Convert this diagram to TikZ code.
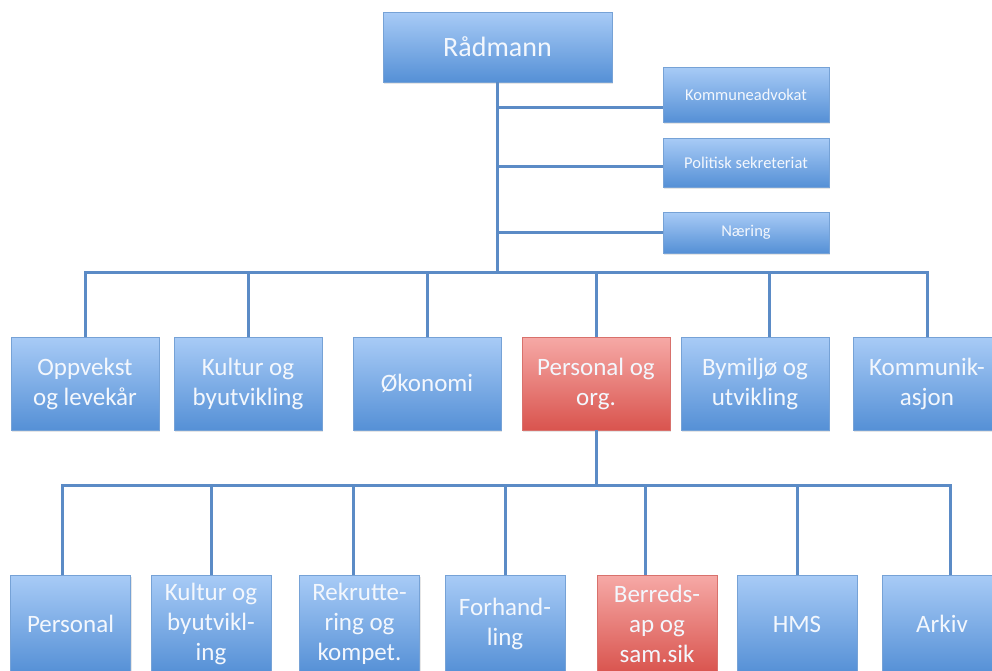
\documentclass[tikz,border=0pt]{standalone}
\usepackage{fontspec}
\setmainfont{Carlito}
\usetikzlibrary{shadows}
\definecolor{boxtop}{HTML}{A8CBF6}
\definecolor{boxbot}{HTML}{5590D6}
\definecolor{boxline}{HTML}{76A2D6}
\definecolor{redtop}{HTML}{F6A9A6}
\definecolor{redbot}{HTML}{D9544E}
\definecolor{redline}{HTML}{D8716C}
\definecolor{wire}{HTML}{5B8BC6}
\definecolor{boxtext}{HTML}{F3F7FD}

\begin{document}
\begin{tikzpicture}[x=1pt,y=-1pt,
     unit/.style={draw=boxline,line width=0.8pt,top color=boxtop,
       bottom color=boxbot,text=boxtext,align=center,inner sep=0pt,
       drop shadow={shadow xshift=1pt,shadow yshift=-2pt,opacity=0.2}},
     focus/.style={unit,draw=redline,top color=redtop,bottom color=redbot},
     staff/.style={unit,minimum width=166pt,font=\fontsize{16.5}{20}\selectfont},
     dept/.style={minimum width=148pt,minimum height=93pt,
       font=\fontsize{25}{30}\selectfont},
     sect/.style={minimum width=120pt,minimum height=98pt,
       font=\fontsize{25}{30}\selectfont},
     link/.style={draw=wire,line width=3pt}]
    \useasboundingbox (0,0) rectangle (992,670);
    \node[unit,minimum width=229pt,minimum height=70pt,
      font=\fontsize{28}{34}\selectfont] (rad) at (497.5,47) {Rådmann};
    \node[staff,minimum height=55pt] (kadv) at (746,94.5) {Kommuneadvokat};
    \node[staff,minimum height=49pt] (pol) at (746,162.5) {Politisk sekreteriat};
    \node[staff,minimum height=41pt] (nae) at (746,232.5) {Næring};
    \node[unit,dept] (opp) at (85,383.5) {Oppvekst\\og levekår};
    \node[unit,dept] (kul) at (248,383.5) {Kultur og\\byutvikling};
    \node[unit,dept] (oko) at (427,383.5) {Økonomi};
    \node[focus,dept] (pers) at (596,383.5) {Personal og\\org.};
    \node[unit,dept] (bym) at (755,383.5) {Bymiljø og\\utvikling};
    \node[unit,dept] (kom) at (927,383.5) {Kommunik-\\asjon};
    \node[unit,sect] (per) at (70.5,624) {Personal};
    \node[unit,sect] (kub) at (211,624) {Kultur og\\byutvikl-\\ing};
    \node[unit,sect] (rek) at (359.5,624) {Rekrutte-\\ring og\\kompet.};
    \node[unit,sect] (for) at (505,624) {Forhand-\\ling};
    \node[focus,sect] (ber) at (657,624) {Berreds-\\ap og\\sam.sik};
    \node[unit,sect] (hms) at (797,624) {HMS};
    \node[unit,sect] (ark) at (942,624) {Arkiv};
    % top level
    \coordinate (bus) at (497,272);
    \draw[link] (rad.south) -- (rad.south |- bus);
    \draw[link] ([yshift=-12.5pt]kadv.west) -- ([yshift=-12.5pt]kadv.west -| rad.south);
    \draw[link] ([yshift=-3.5pt]pol.west) -- ([yshift=-3.5pt]pol.west -| rad.south);
    \draw[link] (nae.west) -- (nae.west -| rad.south);
    \draw[link] (opp.north) |- (kom.north |- bus) -- (kom.north);
    \draw[link] (kul.north) -- (kul.north |- bus);
    \draw[link] (oko.north) -- (oko.north |- bus);
    \draw[link] (pers.north) -- (pers.north |- bus);
    \draw[link] ([xshift=14pt]bym.north) -- ([xshift=14pt]bym.north |- bus);
    % personal og org.
    \coordinate (sub) at (596,485);
    \draw[link] (pers.south) -- (pers.south |- sub);
    \draw[link] ([xshift=-8.5pt]per.north) |- ([xshift=8pt]ark.north |- sub)
      -- ([xshift=8pt]ark.north);
    \draw[link] (kub.north) -- (kub.north |- sub);
    \draw[link] ([xshift=-6.5pt]rek.north) -- ([xshift=-6.5pt]rek.north |- sub);
    \draw[link] (for.north) -- (for.north |- sub);
    \draw[link] ([xshift=-12pt]ber.north) -- ([xshift=-12pt]ber.north |- sub);
    \draw[link] (hms.north) -- (hms.north |- sub);
  \end{tikzpicture}
\end{document}
